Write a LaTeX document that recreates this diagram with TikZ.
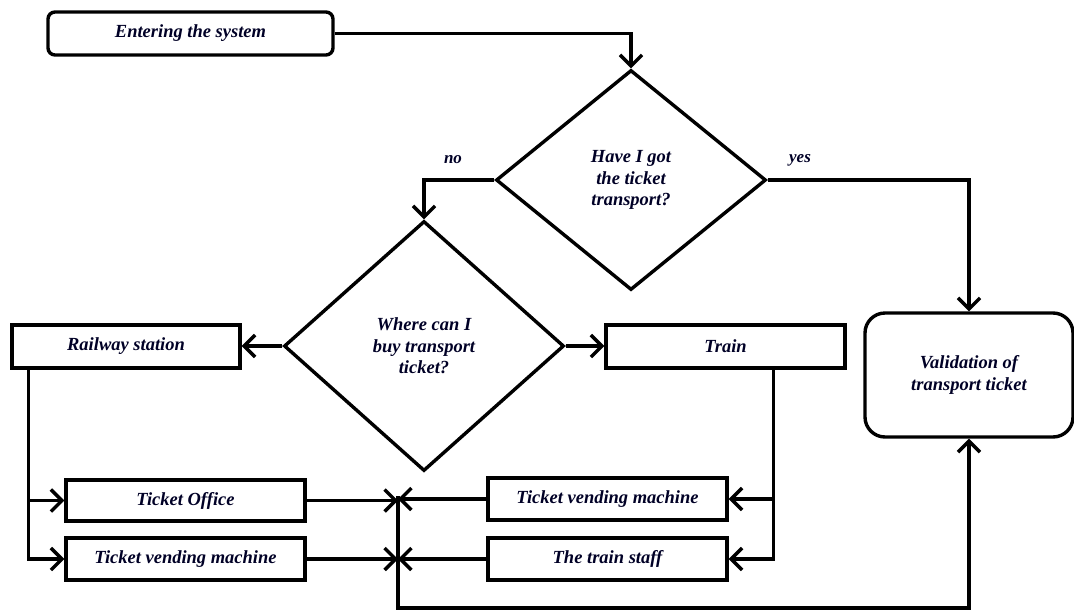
\documentclass[tikz,border=0pt]{standalone}
\usepackage{fontspec}
\setmainfont{Liberation Serif}
\usepackage{tikz}
\usetikzlibrary{
    arrows.meta,
    shapes.geometric,
    calc,
}
\tikzset{
    flowchart/.style={
        x=1pt, y=-1pt,
        line width=3.4pt,
        every node/.style={font=\bfseries\itshape\fontsize{18.5}{21.5}\selectfont, align=center, text=black!85!blue},
    },
    flowbox/.style={draw=black, fill=white, rectangle, inner sep=0pt},
    terminal/.style={flowbox, rounded corners=7pt},
    decision/.style={draw=black, fill=white, diamond, inner sep=0pt},
    flow/.style={draw=black, -{Straight Barb[length=11pt,width=22pt]}},
    answer/.style={font=\bfseries\itshape\fontsize{17}{20}\selectfont},
}
\begin{document}
\begin{tikzpicture}[flowchart]
    \useasboundingbox (0,0) rectangle (1074,611);
    % start and the two questions
    \node[terminal, minimum width=285pt, minimum height=43pt] (enter) at (190.5,33.5) {Entering the system};
    \node[decision, minimum width=270pt, minimum height=220pt] (gotticket) at (631,180) {Have I got\\the ticket\\transport?};
    \node[decision, minimum width=280pt, minimum height=250pt] (whereto) at (424,346) {Where can I\\buy transport\\ticket?};
    % places
    \node[flowbox, minimum width=228pt, minimum height=43pt] (railway) at (126,346.5) {Railway station};
    \node[flowbox, minimum width=239pt, minimum height=43pt] (train) at (725.5,346.5) {Train};
    \node[terminal, rounded corners=20pt, minimum width=208pt, minimum height=124pt] (validation) at (969,375) {Validation of\\transport ticket};
    % ways of buying
    \node[flowbox, minimum width=239pt, minimum height=41pt] (office) at (185.5,500.5) {Ticket Office};
    \node[flowbox, minimum width=239pt, minimum height=42pt] (stationtvm) at (185.5,559) {Ticket vending machine};
    \node[flowbox, minimum width=239pt, minimum height=42pt] (traintvm) at (607.5,499) {Ticket vending machine};
    \node[flowbox, minimum width=239pt, minimum height=42pt] (staff) at (607.5,559) {The train staff};
    % answers
    \node[answer] (no) at (453,160) {no};
    \node[answer] (yes) at (800,160) {yes};
    % helper points
    \coordinate (railtrunk) at ([xshift=18pt]railway.south west);
    \coordinate (traintrunk) at ([xshift=-73pt]train.south east);
    \coordinate (join) at (398,496);
    \coordinate (joinend) at (398,608);

    \draw[flow] (enter.east) -| (gotticket.north);
    \draw[flow] (gotticket.west) -| (whereto.north);
    \draw[flow] (gotticket.east) -| (validation.north);
    \draw[flow] (whereto.west) -- (whereto.west -| railway.east);
    \draw[flow] (whereto.east) -- (whereto.east -| train.west);
    \draw[flow] (railtrunk) |- (office.west);
    \draw[flow] (railtrunk) |- (stationtvm.west);
    \draw[flow] (traintrunk) |- (traintvm.east);
    \draw[flow] (traintrunk) |- (staff.east);
    \draw[flow] (office.east) -- (office.east -| join);
    \draw[flow] (stationtvm.east) -- (stationtvm.east -| join);
    \draw[flow] (traintvm.west) -- (traintvm.west -| join);
    \draw[flow] (staff.west) -- (staff.west -| join);
    \draw[flow] (join) -- (joinend) -| (validation.south);
\end{tikzpicture}
\end{document}
